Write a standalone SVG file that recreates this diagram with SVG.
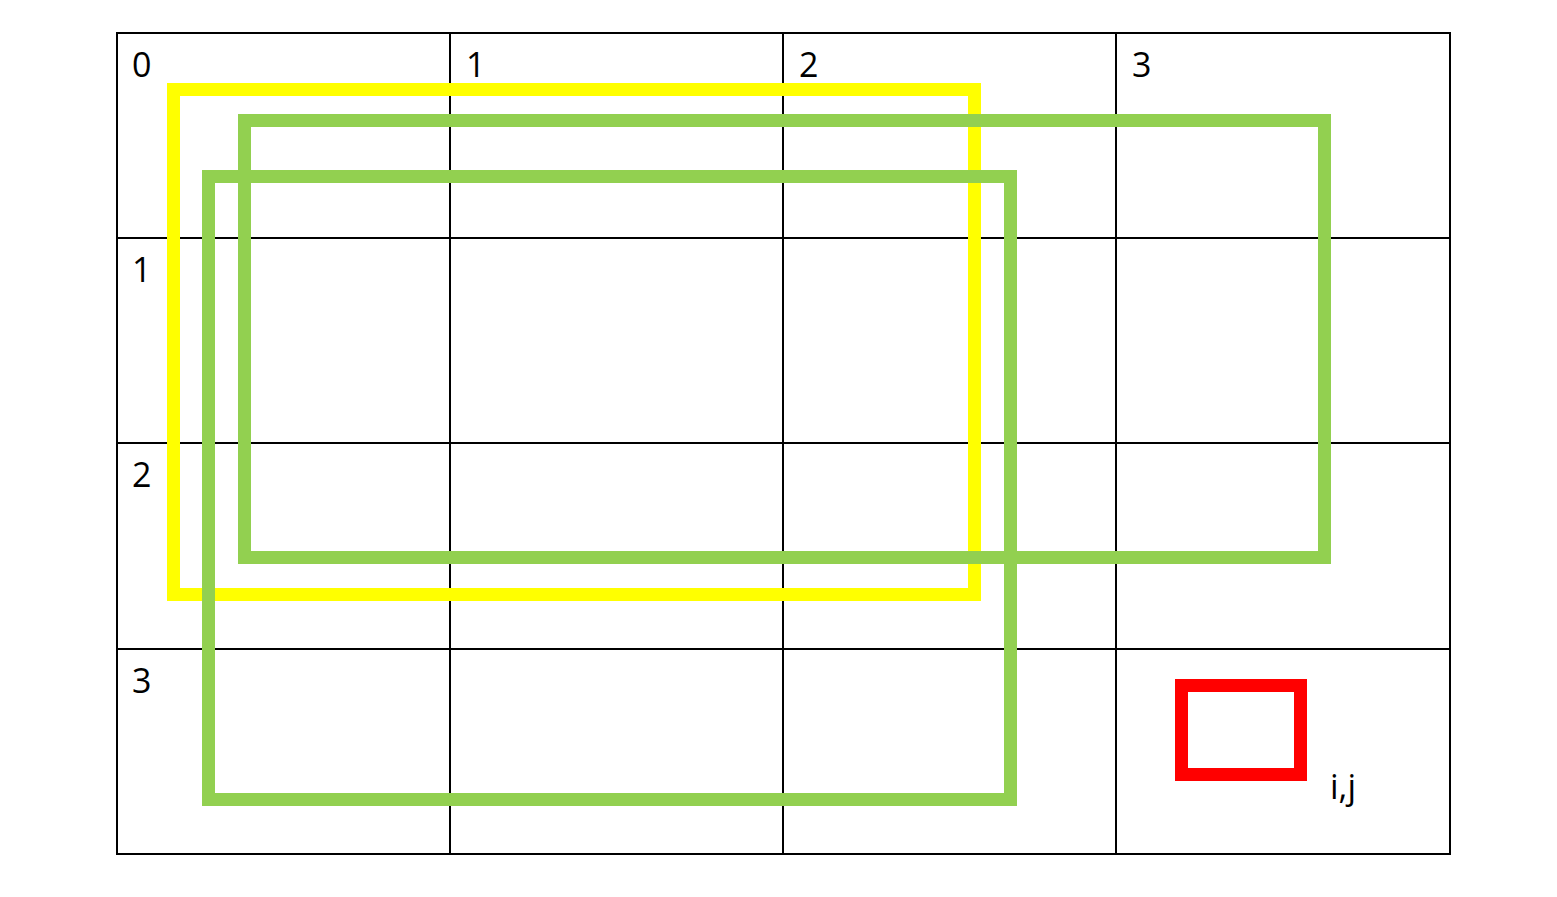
<svg xmlns="http://www.w3.org/2000/svg" width="1557" height="897" viewBox="0 0 1557 897">
<style>
.grid{stroke:#000;stroke-width:2;fill:none}
.lbl{font-family:"Open Sans","Noto Sans",sans-serif;font-size:34px;fill:#000}
.box{fill:none;stroke-width:13}
</style>
<rect width="1557" height="897" fill="#fff"/>
<g id="grid" class="grid">
<rect x="117" y="33" width="1333" height="821"/>
<line x1="450" y1="33" x2="450" y2="854"/>
<line x1="783" y1="33" x2="783" y2="854"/>
<line x1="1116" y1="33" x2="1116" y2="854"/>
<line x1="117" y1="238" x2="1450" y2="238"/>
<line x1="117" y1="443" x2="1450" y2="443"/>
<line x1="117" y1="649" x2="1450" y2="649"/>
</g>
<g id="labels" class="lbl">
<text x="132" y="77">0</text>
<text x="466" y="77">1</text>
<text x="799" y="77">2</text>
<text x="1132" y="77">3</text>
<text x="132" y="282">1</text>
<text x="132" y="487">2</text>
<text x="132" y="693">3</text>
<text x="1330" y="799">i,j</text>
</g>
<g id="yellow"><rect class="box" stroke="#ffff00" x="173.5" y="89.5" width="801" height="505"/></g>
<g id="green1"><rect class="box" stroke="#92d050" x="244.5" y="120.5" width="1080" height="437"/></g>
<g id="green2"><rect class="box" stroke="#92d050" x="208.5" y="176.5" width="802" height="623"/></g>
<g id="red"><rect class="box" stroke="#ff0000" x="1181.5" y="685.5" width="119" height="89"/></g>
</svg>
